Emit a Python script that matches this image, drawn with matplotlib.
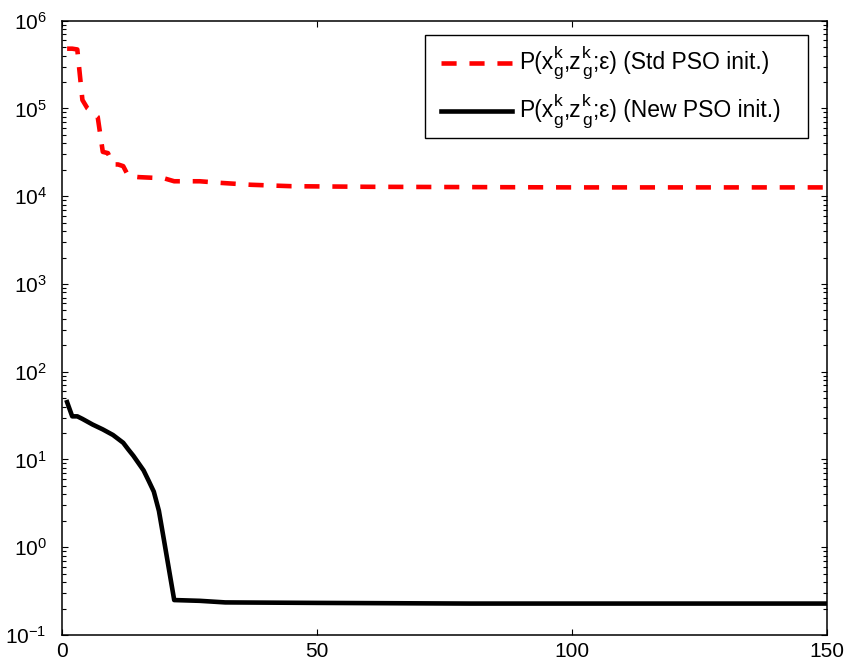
import numpy as np
import matplotlib
matplotlib.use("Agg")
import matplotlib.pyplot as plt
from matplotlib.ticker import LogLocator, FixedLocator, NullFormatter
from matplotlib.offsetbox import TextArea, HPacker, VPacker, DrawingArea, AnchoredOffsetbox
from matplotlib.lines import Line2D
from matplotlib.patches import Rectangle

plt.rcParams["font.family"] = ["Liberation Sans", "DejaVu Sans"]
plt.rcParams["mathtext.fontset"] = "custom"
plt.rcParams["mathtext.rm"] = "Liberation Sans"
plt.rcParams["mathtext.it"] = "Liberation Sans"
plt.rcParams["mathtext.bf"] = "Liberation Sans:bold"

# Std PSO initialisation
std_iter = [1, 2, 3, 4, 5, 6, 7, 8, 9, 10, 11, 12, 13, 15, 20, 22, 27, 31, 37, 45, 60, 80, 100, 150]
std_vals = [4.8e5, 4.8e5, 4.7e5, 1.25e5, 1.0e5, 9.0e4, 8.0e4, 3.2e4, 3.1e4, 2.3e4, 2.3e4, 2.2e4,
            1.7e4, 1.65e4, 1.6e4, 1.48e4, 1.48e4, 1.42e4, 1.35e4, 1.3e4, 1.28e4, 1.27e4, 1.26e4, 1.26e4]

# New PSO initialisation
new_iter = [1, 2, 3, 4, 6, 8, 10, 12, 13, 14, 16, 17, 18, 19, 20, 22, 27, 32, 50, 80, 150]
new_vals = [45, 31, 31, 29, 25, 22, 19, 15.5, 13, 11, 7.5, 5.7, 4.3, 2.6, 1.2, 0.25,
            0.245, 0.235, 0.232, 0.228, 0.228]

std_tail = "Std PSO init."
new_tail = "New PSO init."

RED_DASH = (3.3, 2.8)
LW = 3.3
LEG_SIZE = 16.5
SCRIPT_SIZE = 12.5

fig = plt.figure(figsize=(8.47, 6.72), dpi=100)
ax = fig.add_axes([0.0732, 0.0551, 0.9032, 0.9141])

ax.semilogy(std_iter, std_vals, color="red", linewidth=LW, dashes=RED_DASH)
ax.semilogy(new_iter, new_vals, color="black", linewidth=LW)

ax.set_xlim(0, 150)
ax.set_ylim(1e-1, 1e6)
ax.xaxis.set_major_locator(FixedLocator([0, 50, 100, 150]))
ax.yaxis.set_major_locator(LogLocator(base=10, numticks=20))
ax.yaxis.set_minor_locator(LogLocator(base=10, subs=np.arange(2, 10), numticks=20))
ax.yaxis.set_minor_formatter(NullFormatter())

ax.tick_params(which="both", direction="in", top=True, right=True, labelsize=15)
ax.tick_params(axis="y", pad=11)
ax.tick_params(axis="x", pad=5)
ax.tick_params(which="major", length=4.5, width=0.8)
ax.tick_params(which="minor", length=3, width=0.8)
for s in ax.spines.values():
    s.set_linewidth(1.1)


# legend drawn by hand so that the sub/superscripts stay MATLAB-sized
def scripts():
    return VPacker(children=[TextArea("k", textprops=dict(size=SCRIPT_SIZE)),
                             TextArea("g", textprops=dict(size=SCRIPT_SIZE))],
                   align="left", pad=0, sep=2.5)


def legend_row(color, dashes, tail):
    da = DrawingArea(51, 14, 0, 0)
    ln = Line2D([0, 51], [7, 7], color=color, linewidth=LW)
    if dashes is not None:
        ln.set_dashes(dashes)
    da.add_artist(ln)
    parts = [TextArea("P(x", textprops=dict(size=LEG_SIZE)), scripts(),
             TextArea(",z", textprops=dict(size=LEG_SIZE)), scripts(),
             TextArea(";\u03b5) (" + tail + ")", textprops=dict(size=LEG_SIZE))]
    text = HPacker(children=parts, align="center", pad=0, sep=0.5)
    return HPacker(children=[da, text], align="center", pad=0, sep=5)


rows = VPacker(children=[legend_row("red", RED_DASH, std_tail),
                         legend_row("black", None, new_tail)],
               align="left", pad=0, sep=10.5)
# frame: pixels 425..808 x 35..138 of the 847x672 figure
fw, fh = 847.0, 672.0
frame = Rectangle((425 / fw, 1 - 138 / fh), (808 - 425) / fw, (138 - 35) / fh,
                  transform=fig.transFigure, facecolor="white", edgecolor="black",
                  linewidth=1.0, zorder=5)
fig.patches.append(frame)
box = AnchoredOffsetbox(loc="upper left", child=rows, pad=0, borderpad=0, frameon=False,
                        bbox_to_anchor=(441 / fw, 1 - 46 / fh),
                        bbox_transform=fig.transFigure)
box.set_zorder(6)
fig.add_artist(box)

plt.savefig("out.png", dpi=100)
